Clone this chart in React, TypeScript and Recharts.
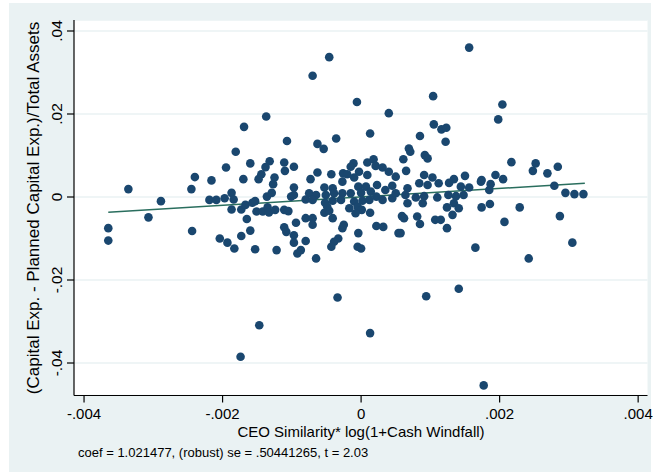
import React from 'react';
import { ScatterChart, Scatter, XAxis, YAxis, CartesianGrid, ReferenceLine } from 'recharts';

const xValues = [
  -0.00336, -0.00289, -0.00307, -0.00365, -0.00365, -0.0024, -0.00245, -0.00244,
  -0.00137, -0.00169, -0.00107, -0.00181, -0.0016, -0.00132, -0.00195, -0.00111,
  -0.00097, -0.00138, -0.0011, -0.00144, -0.00216, -0.0017, -0.00148, -0.00125,
  -0.00127, -0.00097, -0.00219, -0.00209, -0.00197, -0.00187, -0.00184, -0.00187,
  -0.00173, -0.00167, -0.00157, -0.00153, -0.00136, -0.00129, -0.00151, -0.00142,
  -0.00135, -0.00133, -0.00124, -0.00111, -0.00105, -0.00101, -0.00097, -0.00165,
  -0.0016, -0.00173, -0.00204, -0.00193, -0.00183, -0.00153, -0.00122, -0.00111,
  -0.00108, -0.00097, -0.00094, -0.00092, -0.00097, -0.00006, 0.0004, -0.00036,
  -0.00063, -0.00054, 0.00013, -0.00063, -0.00043, -0.00026, -0.00011, -0.00015,
  0.00009, 0.00018, 0.00021, 0.00031, 0.0004, 0.0005, -0.00003, 0.00009,
  -0.0002, -0.00073, -0.0001, -0.00053, -0.00041, -0.00027, -0.00004, 0.00007,
  0.00023, 0.00035, 0.00045, -0.00075, -0.00065, -0.00051, -0.00039, -0.00027,
  -0.00015, 0.0, 0.00014, 0.00022, -0.0008, -0.0007, -0.00052, -0.00041,
  -0.00029, -0.0001, 0.00002, 0.00012, 0.00031, 0.00045, 0.0005, -0.00017,
  -0.00005, 0.00001, -0.00008, -0.00053, -0.00046, -0.00049, 0.00013, -0.0008,
  -0.0007, -0.0007, -0.00041, -0.00025, -0.00027, 0.00022, 0.00032, -0.00004,
  -0.00033, -0.00039, -0.00043, -0.00005, 0.0, -0.0008, -0.00087, -0.00065,
  0.00054, 0.00104, 0.00198, 0.00105, 0.00116, 0.00123, 0.00085, 0.00122,
  0.00069, 0.00071, 0.00061, 0.00092, 0.00096, 0.00065, 0.00091, 0.00103,
  0.00134, 0.0015, 0.00174, 0.00194, 0.00067, 0.00084, 0.00096, 0.00112,
  0.00127, 0.00144, 0.00156, 0.00173, 0.00187, 0.00185, 0.00064, 0.00079,
  0.00091, 0.0011, 0.00126, 0.00137, 0.00148, 0.00067, 0.00089, 0.00134,
  0.00124, 0.00141, 0.00132, 0.00174, 0.00186, 0.00059, 0.00062, 0.00081,
  0.00085, 0.00107, 0.00115, 0.00124, 0.00057, 0.00165, 0.00204, 0.00217,
  0.00252, 0.00248, 0.00269, 0.00284, 0.00205, 0.00279, 0.00295, 0.00308,
  0.00321, 0.00229, 0.00207, 0.00287, 0.00305, 0.00242, -0.00046, -0.0007,
  0.00156, -0.00034, 0.00094, 0.00141, -0.00147, 0.00013, -0.00174, 0.00177,
];

const yValues = [
  0.0019, -0.001, -0.0049, -0.0075, -0.0105, 0.0048, 0.0019, -0.0082,
  0.0194, 0.0169, 0.0135, 0.0109, 0.0081, 0.0086, 0.0071, 0.0083,
  0.0073, 0.0072, 0.0063, 0.0055, 0.004, 0.0043, 0.0043, 0.0047,
  0.0031, 0.0023, -0.0007, -0.0007, -0.0003, 0.001, -0.0006, -0.003,
  -0.003, -0.0019, -0.0014, -0.001, 0.0001, 0.001, -0.0035, -0.0035,
  -0.0025, -0.0037, -0.0031, -0.0031, -0.0034, 0.0001, 0.0005, -0.0053,
  -0.0081, -0.0094, -0.01, -0.011, -0.0124, -0.0126, -0.0128, -0.0073,
  -0.0084, -0.0092, -0.0062, -0.0136, -0.011, 0.0229, 0.0202, 0.0141,
  0.0128, 0.0116, 0.0153, 0.0059, 0.0055, 0.0057, 0.0081, 0.0073,
  0.0083, 0.0091, 0.0075, 0.0071, 0.0061, 0.0049, 0.0061, 0.0053,
  0.0055, 0.0043, 0.0047, 0.0023, 0.0021, 0.0037, 0.0025, 0.0025,
  0.0029, 0.0017, 0.0027, 0.0009, 0.0005, 0.0005, 0.0009, 0.0009,
  0.0009, 0.001, 0.0013, 0.0001, -0.0006, -0.0007, -0.0014, -0.0009,
  -0.0007, -0.0011, -0.0009, -0.0007, -0.0007, -0.0003, 0.0009, -0.0027,
  -0.0023, -0.0031, -0.0039, -0.0038, -0.0033, -0.0023, -0.0038, -0.0051,
  -0.0051, -0.0067, -0.0051, -0.0067, -0.0075, -0.007, -0.0072, -0.0087,
  -0.01, -0.0108, -0.012, -0.012, -0.0124, -0.0106, -0.0128, -0.0148,
  -0.0087, 0.0243, 0.0187, 0.0175, 0.0163, 0.0167, 0.0147, 0.0133,
  0.0117, 0.0109, 0.0091, 0.0101, 0.0093, 0.0063, 0.0053, 0.0047,
  0.0043, 0.0051, 0.0041, 0.0053, 0.0021, 0.0033, 0.0029, 0.0033,
  0.0034, 0.0025, 0.0023, 0.0037, 0.0031, 0.0017, 0.0005, -0.0001,
  0.0002, -0.0001, 0.0005, 0.0002, 0.0005, -0.0015, -0.0015, -0.0015,
  -0.0025, -0.0027, -0.0043, -0.0025, -0.0017, -0.0046, -0.0051, -0.0047,
  -0.0065, -0.0055, -0.0055, -0.0075, -0.0087, -0.0122, 0.0223, 0.0084,
  0.0081, 0.0063, 0.0057, 0.0073, 0.0043, 0.0027, 0.001, 0.0007,
  0.0007, -0.0025, -0.006, -0.0046, -0.011, -0.0148, 0.0337, 0.0292,
  0.036, -0.0242, -0.0239, -0.0221, -0.0309, -0.0328, -0.0385, -0.0454,
];

const fitX = [-0.00365, 0.00323];
const fitY = [-0.0037, 0.0033];

const xTicks = [-0.004, -0.002, 0, 0.002, 0.004];
const xTickLabels = ['-.004', '-.002', '0', '.002', '.004'];
const yTicks = [-0.04, -0.02, 0, 0.02, 0.04];
const yTickLabels = ['-.04', '-.02', '0', '.02', '.04'];

const xTitle = 'CEO Similarity* log(1+Cash Windfall)';
const yTitle = '(Capital Exp. - Planned Capital Exp.)/Total Assets';
const noteText = 'coef = 1.021477, (robust) se = .50441265, t = 2.03';

const points = xValues.map((x, i) => ({ x, y: yValues[i] }));

const FONT = '"Liberation Sans", Arial, sans-serif';
const NAVY = '#1a476f';
const FIT = '#2a6e5e';

const XTick = (props: any) => {
  const { x, y, payload } = props;
  const idx = xTicks.findIndex((t) => Math.abs(t - payload.value) < 1e-9);
  return (
    <text x={x} y={y + 14} textAnchor="middle" fontSize={15} fontFamily={FONT} fill="#000">
      {xTickLabels[idx]}
    </text>
  );
};

const YTick = (props: any) => {
  const { x, y, payload } = props;
  const idx = yTicks.findIndex((t) => Math.abs(t - payload.value) < 1e-9);
  return (
    <text
      x={x}
      y={y}
      transform={`rotate(-90, ${x}, ${y})`}
      textAnchor="middle"
      fontSize={15.5}
      fontFamily={FONT}
      fill="#000"
    >
      {yTickLabels[idx]}
    </text>
  );
};

const Dot = (props: any) => {
  const { cx, cy } = props;
  if (cx == null || cy == null) return <g />;
  return <circle cx={cx} cy={cy} r={4.3} fill={NAVY} />;
};

export default function App() {
  return (
    <div style={{ position: 'absolute', left: 0, top: 0, width: 653, height: 475, background: '#ffffff' }}>
      <div style={{ position: 'absolute', left: 9, top: 3, width: 642, height: 469, background: '#eaf2f3' }} />
      <div style={{ position: 'absolute', left: 0, top: 0 }}>
        <ScatterChart width={653} height={475} margin={{ top: 20, right: 5.5, bottom: 49.5, left: 14 }}>
          <CartesianGrid vertical={false} fill="#ffffff" stroke="#eaf2f3" strokeWidth={1.5} />
          <XAxis
            type="number"
            dataKey="x"
            domain={[-0.004145, 0.004135]}
            ticks={xTicks}
            allowDataOverflow
            height={30}
            axisLine={{ stroke: '#000', strokeWidth: 1.2 }}
            tickLine={{ stroke: '#000', strokeWidth: 1.2 }}
            tickSize={7}
            tickMargin={2}
            tick={<XTick />}
            interval={0}
          />
          <YAxis
            type="number"
            dataKey="y"
            domain={[-0.04783, 0.04265]}
            ticks={yTicks}
            allowDataOverflow
            width={60}
            axisLine={{ stroke: '#000', strokeWidth: 1.2 }}
            tickLine={{ stroke: '#000', strokeWidth: 1.2 }}
            tickSize={7}
            tickMargin={5}
            tick={<YTick />}
            interval={0}
          />
          <Scatter data={points} fill={NAVY} shape={<Dot />} isAnimationActive={false} />
          <ReferenceLine
            segment={[
              { x: fitX[0], y: fitY[0] },
              { x: fitX[1], y: fitY[1] },
            ]}
            stroke={FIT}
            strokeWidth={1.5}
            ifOverflow="visible"
          />
        </ScatterChart>
      </div>
      <svg
        width={653}
        height={475}
        style={{ position: 'absolute', left: 0, top: 0, pointerEvents: 'none' }}
      >
        <text
          x={39}
          y={208}
          transform="rotate(-90, 39, 208)"
          textAnchor="middle"
          fontSize={17}
          fontFamily={FONT}
          fill="#000"
        >
          {yTitle}
        </text>
        <text x={361} y={437} textAnchor="middle" fontSize={15} fontFamily={FONT} fill="#000">
          {xTitle}
        </text>
        <text x={78} y={457} fontSize={13} fontFamily={FONT} fill="#000">
          {noteText}
        </text>
      </svg>
    </div>
  );
}
